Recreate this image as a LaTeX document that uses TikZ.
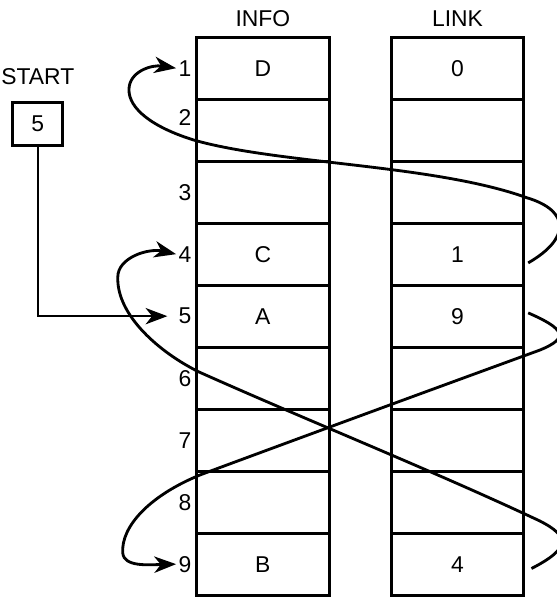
\documentclass[tikz,border=0pt]{standalone}
\usepackage{fontspec}
\setmainfont{Liberation Sans}
\usetikzlibrary{arrows.meta}
\tikzset{cell/.style={draw=black, line width=1.4pt, minimum width=2.14cm, minimum height=1cm, inner sep=0pt, outer sep=0pt},
rowlabel/.style={anchor=east, inner sep=1pt},
ptr/.style={line width=1.3pt, -{Stealth[length=10pt,width=7.5pt,inset=3pt]}}}

\begin{document}
\begin{tikzpicture}[font=\fontsize{10.5}{12}\selectfont]
\useasboundingbox (0,-0.03) rectangle (8.97,9.60);

% INFO and LINK columns
\foreach \r/\info/\link/\dy in {1/D/0/0,2///0.2,3///0,4/C/1/0,5/A/9/0,6///0,7///0,8///0,9/B/4/0}
{
  \node[cell] (i\r) at (4.24,9.5-\r) {\info};
  \node[cell] (l\r) at (7.38,9.5-\r) {\link};
  \node[rowlabel] (r\r) at (3.13,9.5-\r+\dy) {\r};
}

%labels
\node (info) at (4.24,9.30) {INFO};
\node (link) at (7.38,9.30) {LINK};
\node (start) at (0.61,8.36) {START};
\node[draw, line width=1.4pt, minimum width=0.81cm, minimum height=0.68cm] (head) at (0.61,7.60) {5};

% START -> 5
\draw[ptr, line width=0.9pt, shorten >=4pt] (head.south) |- (r5.west);

% 4 -> 1
\draw[ptr] ([xshift=2pt,yshift=-4pt]l4.east) .. controls (9.2,5.75) and (9.2,6.2) .. (8.5,6.41)
  .. controls (7.0,6.95) and (4.5,6.95) .. (3.13,7.34)
  .. controls (2.45,7.55) and (2.08,7.85) .. (2.08,8.15)
  .. controls (2.08,8.45) and (2.45,8.56) .. (r1.west);

% 5 -> 9
\draw[ptr] ([xshift=2pt,yshift=1.5pt]l5.east) .. controls (9.1,4.3) and (9.2,4.15) .. (8.7,3.95)
  .. controls (7.0,3.33) and (4.9,2.56) .. (3.23,1.94)
  .. controls (2.4,1.6) and (1.95,1.1) .. (1.98,0.68)
  .. controls (2.0,0.45) and (2.4,0.49) .. (r9.west);

% 9 -> 4
\draw[ptr] ([xshift=3.5pt,yshift=-2pt]l9.east) .. controls (9.2,0.75) and (9.2,0.95) .. (8.7,1.2)
  .. controls (7.0,2.0) and (5.0,2.8) .. (3.21,3.6)
  .. controls (2.6,3.9) and (1.88,4.5) .. (1.90,5.13)
  .. controls (1.9,5.45) and (2.4,5.6) .. (r4.west);

\end{tikzpicture}
\end{document}
